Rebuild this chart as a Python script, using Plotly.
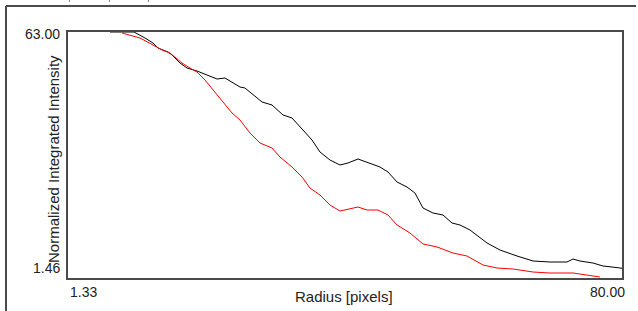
import plotly.graph_objects as go

# ---- data ----
radius_black = [7.29, 10.70, 12.26, 13.40, 14.11, 15.53, 16.10, 17.23, 18.23, 19.65, 21.07, 22.49,
                23.62, 24.33, 25.75, 26.46, 28.88, 30.30, 31.86, 33.14, 34.27, 35.98, 37.11, 38.53,
                39.95, 41.09, 42.51, 44.21, 45.63, 46.77, 48.05, 49.47, 50.60, 51.74, 53.16, 54.58,
                55.86, 56.99, 58.41, 60.83, 62.67, 65.09, 67.36, 69.77, 72.19, 73.04, 74.03, 75.88,
                77.30, 78.58, 79.71, 80.00]
intensity_black = [63.0, 63.0, 61.50, 60.25, 59.0, 57.99, 57.25, 55.24, 53.99, 53.24, 52.24, 51.24,
                   51.49, 50.74, 49.24, 48.99, 45.49, 44.74, 42.24, 41.49, 39.23, 35.98, 32.98, 30.98,
                   29.73, 30.23, 31.23, 30.23, 29.23, 27.98, 25.48, 24.22, 22.72, 18.97, 17.72, 17.22,
                   15.22, 14.72, 13.47, 10.22, 8.46, 6.96, 5.71, 5.46, 5.46, 6.21, 5.71, 5.21,
                   4.46, 4.21, 3.96, 3.90]

radius_red = [9.00, 11.55, 13.40, 14.68, 15.81, 17.52, 18.65, 19.65, 20.78, 21.92, 23.34, 24.62,
              25.75, 27.17, 28.59, 30.30, 31.43, 33.14, 34.56, 35.69, 37.11, 38.53, 39.95, 41.09,
              42.51, 43.79, 45.35, 46.77, 48.05, 49.89, 51.74, 53.73, 56.00, 57.99, 60.26, 62.25,
              64.52, 67.36, 69.77, 73.04, 75.03, 76.87]
intensity_red = [62.75, 61.50, 59.75, 58.50, 57.75, 55.24, 53.99, 52.99, 50.99, 48.49, 45.49, 42.74,
                 40.99, 37.73, 35.23, 33.98, 31.73, 29.23, 26.73, 23.97, 22.22, 19.72, 18.22, 18.72,
                 19.22, 18.47, 18.47, 17.22, 14.72, 12.72, 9.97, 9.22, 7.71, 6.96, 4.71, 3.96,
                 3.71, 2.96, 2.71, 2.71, 2.21, 1.71]

x_range = [1.33, 80.00]
y_range = [1.46, 63.00]
x_tick_labels = ["1.33", "80.00"]
y_tick_labels = ["63.00", "1.46"]
x_title = "Radius [pixels]"
y_title = "Normalized Integrated Intensity"

# ---- figure ----
W, H = 638, 311
L, R, T, B = 68, 16, 32, 33
pw, ph = W - L - R, H - T - B


def px(xp):
    return (xp - L) / pw


def py(yp):
    return (H - B - yp) / ph


fig = go.Figure()
fig.add_trace(go.Scatter(x=radius_black, y=intensity_black, mode="lines",
                         line=dict(color="#000000", width=1), hoverinfo="skip"))
fig.add_trace(go.Scatter(x=radius_red, y=intensity_red, mode="lines",
                         line=dict(color="#ff0000", width=1), hoverinfo="skip"))

font = dict(family="Liberation Sans, Arial, sans-serif", color="#222222")

axis_common = dict(showgrid=False, zeroline=False, showticklabels=False, ticks="",
                   showline=True, linecolor="#4a4a4a", linewidth=2, mirror=True)

dot_shapes = [
    dict(type="line", xref="paper", yref="paper", x0=px(xp), x1=px(xp), y0=py(0), y1=py(2),
         line=dict(color="#888888", width=1))
    for xp in (69.5, 109.5, 148.5)
]

fig.update_layout(
    width=W, height=H,
    margin=dict(l=L, r=R, t=T, b=B, pad=0),
    paper_bgcolor="white", plot_bgcolor="white",
    showlegend=False,
    xaxis=dict(range=x_range, **axis_common),
    yaxis=dict(range=y_range, **axis_common),
    annotations=[
        dict(xref="x", yref="paper", x=x_range[0], y=py(292), text=x_tick_labels[0],
             xanchor="left", yanchor="middle", showarrow=False, font=dict(size=14, **font)),
        dict(xref="x", yref="paper", x=x_range[1], y=py(292), text=x_tick_labels[1],
             xanchor="right", yanchor="middle", xshift=5, showarrow=False, font=dict(size=14, **font)),
        dict(xref="paper", yref="y", x=px(62), y=y_range[1], text=y_tick_labels[0],
             xanchor="right", yanchor="middle", yshift=-2, showarrow=False, font=dict(size=14, **font)),
        dict(xref="paper", yref="y", x=px(62), y=y_range[0], text=y_tick_labels[1],
             xanchor="right", yanchor="middle", yshift=10, showarrow=False, font=dict(size=14, **font)),
        dict(xref="paper", yref="paper", x=px(344), y=py(296), text=x_title,
             xanchor="center", yanchor="middle", showarrow=False, font=dict(size=15, **font)),
        dict(xref="paper", yref="paper", x=px(53), y=py(159), text=y_title, textangle=-90,
             xanchor="center", yanchor="middle", showarrow=False, font=dict(size=15, **font)),
    ],
    shapes=[
        dict(type="line", xref="paper", yref="paper", x0=px(6), x1=px(636), y0=py(6), y1=py(6),
             line=dict(color="#4a4a4a", width=2)),
        dict(type="line", xref="paper", yref="paper", x0=px(6), x1=px(6), y0=py(6), y1=py(312),
             line=dict(color="#4a4a4a", width=2)),
    ] + dot_shapes,
)

fig.write_html("out.html", config={"displayModeBar": False},
               post_script="document.body.style.margin='0';document.body.style.overflow='hidden';")
